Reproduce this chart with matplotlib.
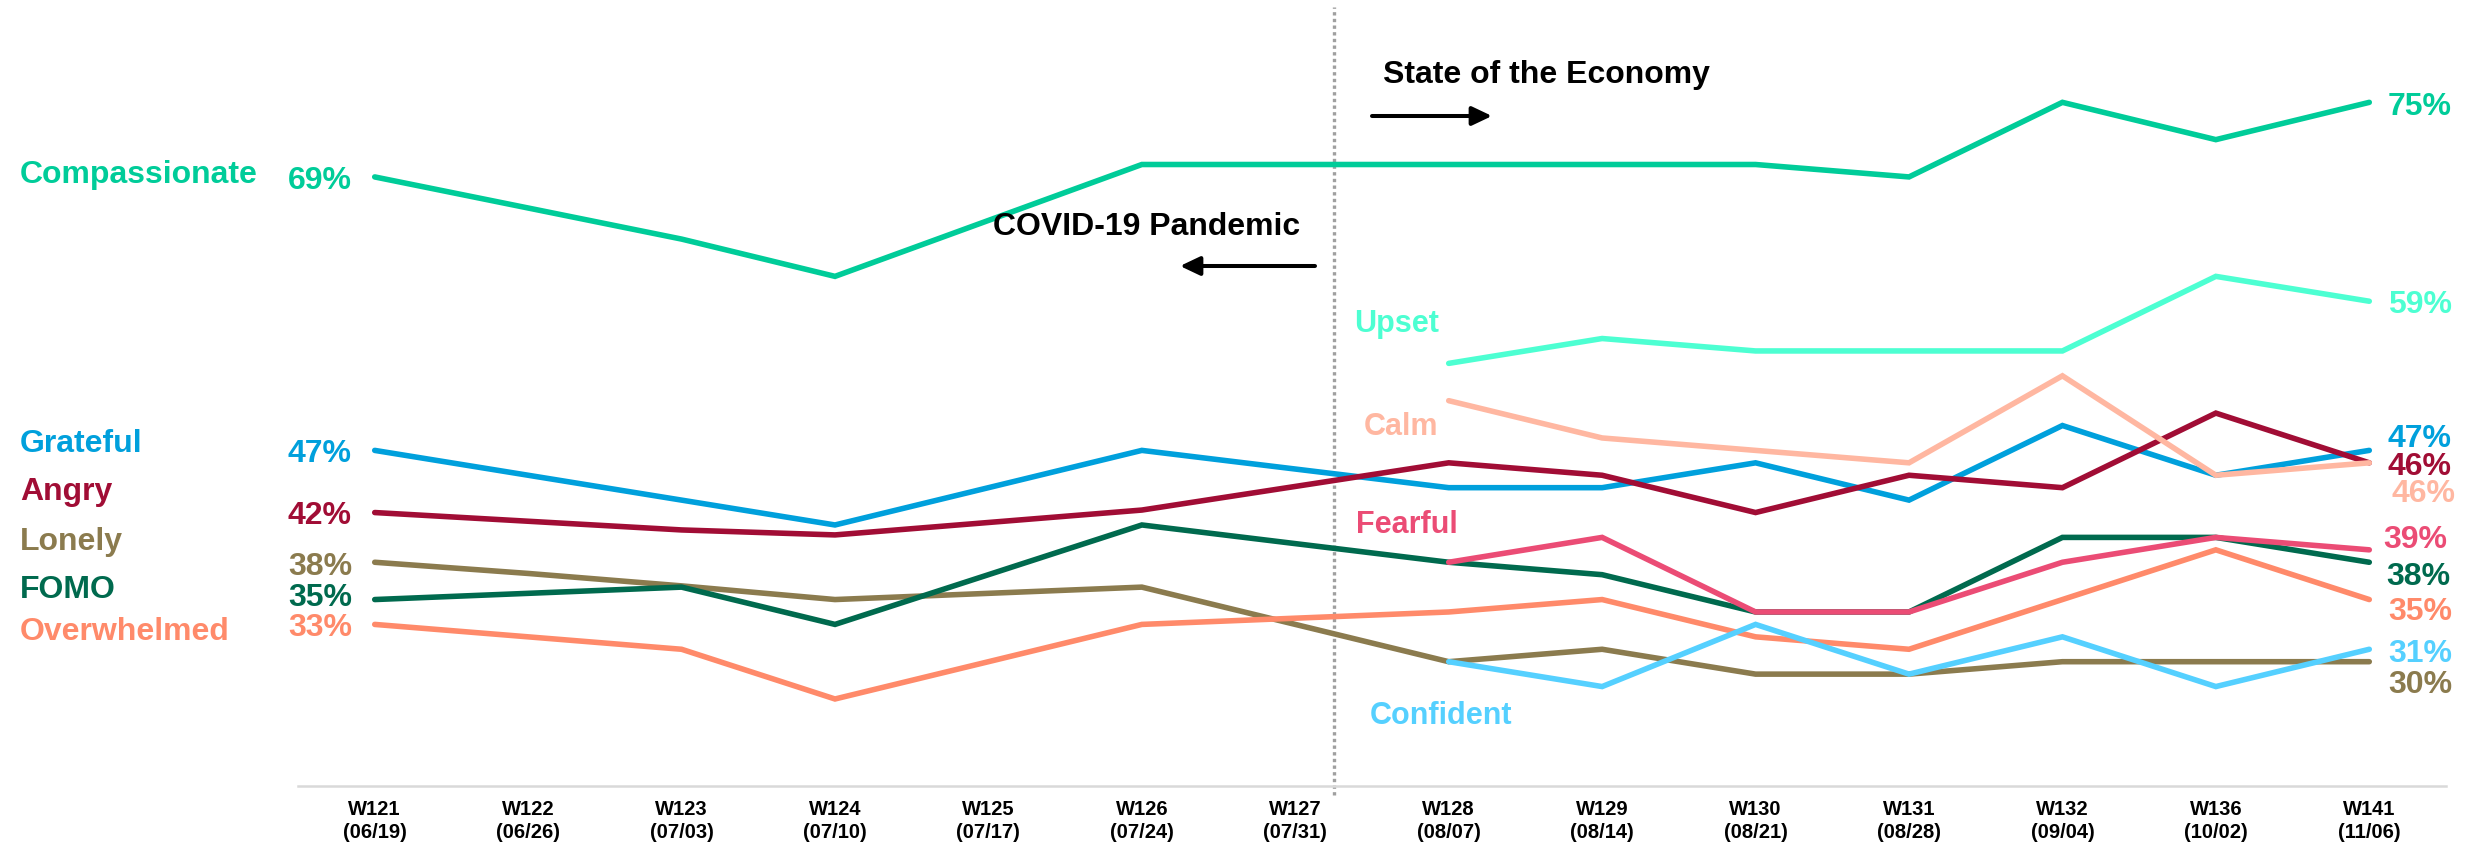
import matplotlib
matplotlib.use("Agg")
import matplotlib.pyplot as plt
from matplotlib.patches import FancyArrowPatch
import numpy as np

plt.rcParams['font.family'] = ['Liberation Sans', 'DejaVu Sans']

# ---------------- data ----------------
weeks = ["W121\n(06/19)", "W122\n(06/26)", "W123\n(07/03)", "W124\n(07/10)", "W125\n(07/17)",
         "W126\n(07/24)", "W127\n(07/31)", "W128\n(08/07)", "W129\n(08/14)", "W130\n(08/21)",
         "W131\n(08/28)", "W132\n(09/04)", "W136\n(10/02)", "W141\n(11/06)"]

N = np.nan
compassionate = [69, 66.5, 64, 61, 65.5, 70, 70, 70, 70, 70, 69, 75, 72, 75]
grateful      = [47, 45, 43, 41, 44, 47, 45.5, 44, 44, 46, 43, 49, 45, 47]
angry         = [42, 41.3, 40.6, 40.2, 41.2, 42.2, 44.1, 46, 45, 42, 45, 44, 50, 46]
lonely        = [38, 37.1, 36.1, 35, 35.5, 36, 33, 30, 31, 29, 29, 30, 30, 30]
fomo          = [35, 35.5, 36, 33, 37, 41, 39.5, 38, 37, 34, 34, 40, 40, 38]
overwhelmed   = [33, 32, 31, 27, 30, 33, 33.5, 34, 35, 32, 31, 35, 39, 35]
upset         = [N, N, N, N, N, N, N, 54, 56, 55, 55, 55, 61, 59]
calm          = [N, N, N, N, N, N, N, 51, 48, 47, 46, 53, 45, 46]
fearful       = [N, N, N, N, N, N, N, 38, 40, 34, 34, 38, 40, 39]
confident     = [N, N, N, N, N, N, N, 30, 28, 33, 29, 32, 28, 31]

series_names = ["Compassionate", "Grateful", "Angry", "Lonely", "FOMO", "Overwhelmed",
                "Upset", "Calm", "Fearful", "Confident"]
series_vals = [compassionate, grateful, angry, lonely, fomo, overwhelmed,
               upset, calm, fearful, confident]
colors = {"Compassionate": "#00CC99", "Grateful": "#00A0DC", "Angry": "#A10D35",
          "Lonely": "#8B7B4E", "FOMO": "#006A4E", "Overwhelmed": "#FF8A6A",
          "Upset": "#4DFFD2", "Calm": "#FFB7A1", "Fearful": "#EB4C75",
          "Confident": "#55D0FF"}

start_labels = ["69%", "47%", "42%", "38%", "35%", "33%"]
end_labels = ["75%", "47%", "46%", "38%", "35%", "30%", "59%", "46%", "39%", "31%"]

# ---------------- figure ----------------
W, H = 2481, 851
fig = plt.figure(figsize=(W / 100, H / 100), dpi=100)
ax = fig.add_axes([298 / W, 1 - 786 / H, 2148 / W, (786 - 40.2) / H])

x = np.arange(len(weeks))
for name, vals in zip(series_names, series_vals):
    ax.plot(x, vals, color=colors[name], lw=4.0, solid_capstyle='round',
            solid_joinstyle='miter', zorder=3)

ax.set_xlim(-0.5, 13.5)
ax.set_ylim(20, 80)
ax.set_yticks([])
ax.set_xticks(x)
ax.set_xticklabels(weeks, fontsize=14.5, fontweight='bold', linespacing=1.25)
ax.tick_params(axis='x', length=0, pad=10)
for s in ['top', 'left', 'right']:
    ax.spines[s].set_visible(False)
ax.spines['bottom'].set_color('#D9D9D9')
ax.spines['bottom'].set_linewidth(1.8)

# dotted divider between periods
ax.axvline(6.25, ymin=-0.012, ymax=1.045, color='#A0A0A0', lw=2.4,
           linestyle=(0, (1, 1)), clip_on=False, zorder=2)


def ftext(px, py, s, **kw):
    fig.text(px / W, 1 - py / H, s, va='baseline', fontweight='bold', **kw)


# left category names
left_names = [("Compassionate", 183.4), ("Grateful", 452), ("Angry", 500),
              ("Lonely", 549.7), ("FOMO", 597.5), ("Overwhelmed", 640.4)]
for name, by in left_names:
    ftext(20, by, name, color=colors[name], fontsize=23, ha='left')

# left percentages
left_pct_pos = [188.8, 461.7, 524, 574.6, 606, 635.8]
left_pct_names = ["Compassionate", "Grateful", "Angry", "Lonely", "FOMO", "Overwhelmed"]
for lab, by, name in zip(start_labels, left_pct_pos, left_pct_names):
    ftext(352, by, lab, color=colors[name], fontsize=23, ha='right')

# right percentages
right_names = ["Compassionate", "Grateful", "Angry", "FOMO", "Overwhelmed", "Lonely",
               "Upset", "Calm", "Fearful", "Confident"]
right_pos = [(2388, 114.7), (2388, 446.5), (2388, 474.8), (2386, 585.2), (2388, 619.5),
             (2388, 693), (2388, 313.4), (2391, 502), (2383, 548.2), (2388, 661.8)]
for lab, name, (px, py) in zip(end_labels, right_names, right_pos):
    ftext(px, py, lab, color=colors[name], fontsize=23, ha='left')

# mid labels for series starting at W128
mid = [("Upset", 1354, 331.7), ("Calm", 1364, 435), ("Fearful", 1356, 533.3),
       ("Confident", 1370, 724)]
for name, px, py in mid:
    ftext(px, py, name, color=colors[name], fontsize=22, ha='left')

# period annotations
ftext(1383, 83.3, "State of the Economy", color='black', fontsize=23, ha='left')
ftext(1300, 235, "COVID-19 Pandemic", color='black', fontsize=23, ha='right')


def farrow(x0, y0, x1, y1):
    a = FancyArrowPatch((x0 / W, 1 - y0 / H), (x1 / W, 1 - y1 / H),
                        transform=fig.transFigure,
                        arrowstyle='-|>,head_length=0.8,head_width=0.38',
                        mutation_scale=15, lw=2.9, color='black',
                        shrinkA=0, shrinkB=0)
    fig.add_artist(a)


farrow(1372, 116, 1492, 116)
farrow(1315, 266, 1180, 266)

fig.savefig("out.png", dpi=100, facecolor='white')
